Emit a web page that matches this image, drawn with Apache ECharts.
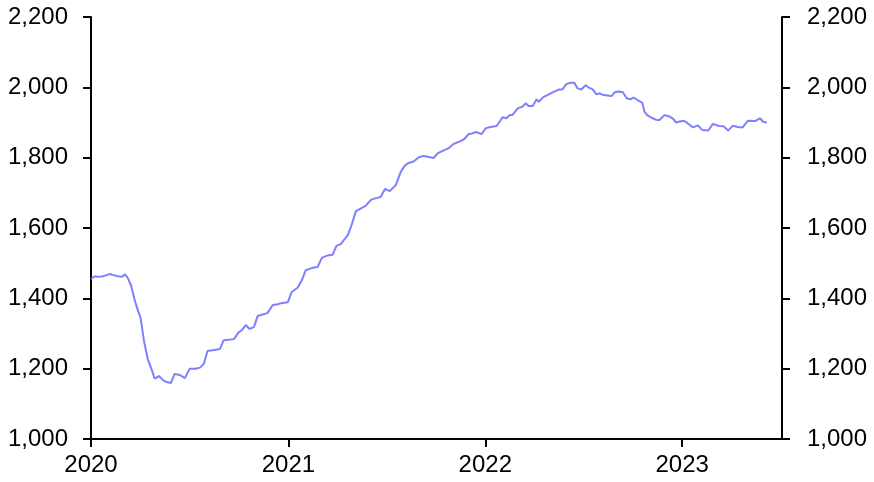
<!DOCTYPE html>
<html>
<head>
<meta charset="utf-8">
<script src="https://cdn.jsdelivr.net/npm/echarts@6/dist/echarts.min.js"></script>
<style>
html,body{margin:0;padding:0;background:#fff;}
#chart{width:874px;height:482px;}
</style>
</head>
<body>
<div id="chart"></div>
<script>
var dates = [
'2020-01-01','2020-01-08','2020-01-15','2020-01-23','2020-01-30','2020-02-05','2020-02-12','2020-02-20','2020-02-27','2020-03-04',
'2020-03-09','2020-03-15','2020-03-22','2020-03-28','2020-04-02','2020-04-08','2020-04-15','2020-04-23','2020-04-28','2020-05-06',
'2020-05-13','2020-05-20','2020-05-28','2020-06-04','2020-06-14','2020-06-23','2020-07-02','2020-07-13','2020-07-21','2020-07-28',
'2020-08-04','2020-08-16','2020-08-27','2020-09-03','2020-09-12','2020-09-22','2020-10-01','2020-10-07','2020-10-14','2020-10-21',
'2020-10-29','2020-11-05','2020-11-14','2020-11-23','2020-12-03','2020-12-12','2020-12-21','2020-12-31','2021-01-07','2021-01-18',
'2021-01-26','2021-02-02','2021-02-13','2021-02-24','2021-03-04','2021-03-11','2021-03-19','2021-03-24','2021-03-31','2021-04-08',
'2021-04-15','2021-04-21','2021-04-28','2021-05-06','2021-05-13','2021-05-24','2021-06-03','2021-06-12','2021-06-21','2021-06-29',
'2021-07-08','2021-07-19','2021-07-28','2021-08-05','2021-08-12','2021-08-21','2021-08-31','2021-09-09','2021-09-18','2021-09-27',
'2021-10-05','2021-10-18','2021-10-25','2021-11-03','2021-11-16','2021-11-23','2021-12-01','2021-12-08','2021-12-15','2021-12-25',
'2022-01-02','2022-01-11','2022-01-22','2022-02-02','2022-02-09','2022-02-15','2022-02-20','2022-03-02','2022-03-11','2022-03-17',
'2022-03-22','2022-03-30','2022-04-06','2022-04-10','2022-04-19','2022-04-26','2022-05-04','2022-05-09','2022-05-18','2022-05-24',
'2022-05-31','2022-06-08','2022-06-15','2022-06-21','2022-06-28','2022-07-06','2022-07-11','2022-07-19','2022-07-26','2022-08-01',
'2022-08-08','2022-08-16','2022-08-23','2022-08-29','2022-09-05','2022-09-13','2022-09-20','2022-09-27','2022-10-03','2022-10-10',
'2022-10-19','2022-10-23','2022-10-28','2022-11-07','2022-11-13','2022-11-20','2022-11-29','2022-12-07','2022-12-14','2022-12-21',
'2022-12-25','2023-01-04','2023-01-11','2023-01-21','2023-01-30','2023-02-07','2023-02-18','2023-02-27','2023-03-10','2023-03-19',
'2023-03-27','2023-04-05','2023-04-14','2023-04-23','2023-05-03','2023-05-16','2023-05-25','2023-05-31','2023-06-07'
];
var values = [
1455,1463,1461,1463,1466,1469,1466,1463,1461,1468,
1458,1438,1395,1365,1344,1281,1228,1195,1172,1179,
1168,1162,1159,1185,1182,1173,1200,1200,1203,1213,
1250,1253,1256,1281,1282,1284,1304,1310,1324,1313,
1318,1350,1354,1358,1381,1383,1387,1389,1418,1430,
1452,1480,1486,1489,1515,1520,1523,1524,1549,1554,
1568,1580,1608,1648,1654,1663,1680,1685,1688,1711,
1705,1722,1759,1778,1785,1789,1801,1805,1802,1799,
1813,1822,1827,1839,1847,1853,1867,1869,1873,1867,
1884,1887,1890,1915,1912,1921,1921,1940,1945,1955,
1947,1947,1966,1959,1973,1978,1984,1988,1994,1994,
2009,2013,2013,1997,1994,2006,2000,1994,1980,1983,
1978,1977,1975,1986,1988,1986,1969,1966,1971,1964,
1956,1931,1921,1912,1908,1907,1921,1918,1912,1900,
1902,1905,1898,1886,1892,1879,1877,1896,1890,1889,
1877,1891,1887,1886,1905,1904,1912,1902,1900
];
var yMin = 1000, yMax = 2200, yStep = 200;
var xMin = '2020-01-01', xMax = '2023-07-05';

var chart = echarts.init(document.getElementById('chart'), null, {renderer: 'canvas'});
var fontFamily = '"Liberation Sans", Arial, sans-serif';
var fmt = function (v) { return v.toLocaleString('en-US'); };
var yAxisCommon = {
  type: 'value', min: yMin, max: yMax, interval: yStep,
  splitLine: {show: false},
  axisLine: {show: true, lineStyle: {color: '#000', width: 2}},
  axisTick: {show: true, inside: false, length: 8, lineStyle: {color: '#000', width: 2}},
  axisLabel: {color: '#000', fontSize: 24, fontFamily: fontFamily, margin: 23, formatter: fmt}
};
var data = dates.map(function (d, i) { return [d, values[i]]; });
chart.setOption({
  animation: false,
  backgroundColor: '#fff',
  grid: {left: 91, right: 92, top: 17, bottom: 43, containLabel: false},
  xAxis: {
    type: 'time', min: xMin, max: xMax,
    minInterval: 365 * 86400000, maxInterval: 366 * 86400000,
    splitLine: {show: false},
    axisLine: {lineStyle: {color: '#000', width: 2}},
    axisTick: {show: true, length: 8, lineStyle: {color: '#000', width: 2}},
    axisLabel: {color: '#000', fontSize: 24, fontFamily: fontFamily, margin: 14,
      formatter: '{yyyy}', showMaxLabel: false, hideOverlap: false}
  },
  yAxis: [
    Object.assign({}, yAxisCommon, {position: 'left'}),
    Object.assign({}, yAxisCommon, {position: 'right', axisLabel: Object.assign({}, yAxisCommon.axisLabel, {margin: 25})})
  ],
  series: [{
    type: 'line', data: data, yAxisIndex: 0, showSymbol: false,
    lineStyle: {color: '#7f7fff', width: 2}, itemStyle: {color: '#7f7fff'}
  }]
});
</script>
</body>
</html>
